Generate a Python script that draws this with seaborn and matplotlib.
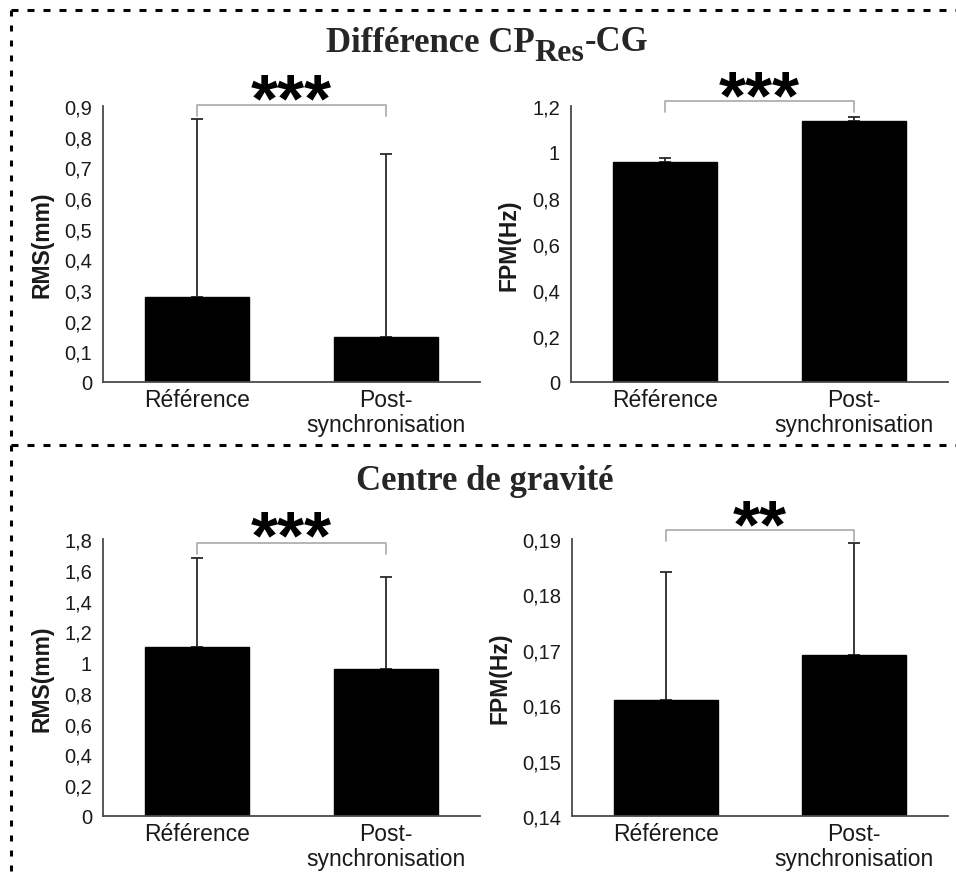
import matplotlib
matplotlib.use("Agg")
import matplotlib.pyplot as plt
import seaborn as sns
import numpy as np
from matplotlib.lines import Line2D
from matplotlib.ticker import FuncFormatter

# ---------------- data ----------------
categories = ["Référence", "Post-\nsynchronisation"]

rms_diff_mean = [0.277, 0.148]
rms_diff_sd = [0.580, 0.595]
fpm_diff_mean = [0.958, 1.136]
fpm_diff_sd = [0.018, 0.018]

rms_cg_mean = [1.100, 0.958]
rms_cg_sd = [0.575, 0.595]
fpm_cg_mean = [0.161, 0.169]
fpm_cg_sd = [0.023, 0.0202]

rms_diff_ticks = [0, 0.1, 0.2, 0.3, 0.4, 0.5, 0.6, 0.7, 0.8, 0.9]
fpm_diff_ticks = [0, 0.2, 0.4, 0.6, 0.8, 1.0, 1.2]
rms_cg_ticks = [0, 0.2, 0.4, 0.6, 0.8, 1.0, 1.2, 1.4, 1.6, 1.8]
fpm_cg_ticks = [0.14, 0.15, 0.16, 0.17, 0.18, 0.19]

significance = ["***", "***", "***", "**"]
ylabels = ["RMS(mm)", "FPM(Hz)", "RMS(mm)", "FPM(Hz)"]
section_titles = ["Centre de gravité"]

# ---------------- style ----------------
sns.set_style("white")
plt.rcParams["font.family"] = ["Liberation Sans", "DejaVu Sans"]

W, H = 956, 879
fig = plt.figure(figsize=(W / 100, H / 100), dpi=100)

def fx(px):
    return px / W

def fy(py):
    return 1 - py / H

panels = [
    dict(rect=[fx(103), fy(383), fx(480) - fx(103), fy(107) - fy(383)],
         mean=rms_diff_mean, sd=rms_diff_sd, ticks=rms_diff_ticks,
         brk=(0.902, 0.866), star_y=0.913, ylab_x=-0.13),
    dict(rect=[fx(571), fy(383), fx(948) - fx(571), fy(107) - fy(383)],
         mean=fpm_diff_mean, sd=fpm_diff_sd, ticks=fpm_diff_ticks,
         brk=(1.220, 1.174), star_y=1.230, ylab_x=-0.135),
    dict(rect=[fx(103), fy(817), fx(480) - fx(103), fy(540) - fy(817)],
         mean=rms_cg_mean, sd=rms_cg_sd, ticks=rms_cg_ticks,
         brk=(1.774, 1.703), star_y=1.80, ylab_x=-0.13),
    dict(rect=[fx(572), fy(817), fx(948) - fx(572), fy(540) - fy(817)],
         mean=fpm_cg_mean, sd=fpm_cg_sd, ticks=fpm_cg_ticks,
         brk=(0.1917, 0.1897), star_y=0.1920, ylab_x=-0.162),
]

spine_col = "#4a4a4a"
fmt = FuncFormatter(lambda v, p: f"{v:g}".replace(".", ","))

for i, p in enumerate(panels):
    ax = fig.add_axes(p["rect"])
    sns.barplot(x=categories, y=p["mean"], color="black", saturation=1,
                width=0.55, errorbar=None, edgecolor="black", ax=ax)
    ax.errorbar(range(len(categories)), p["mean"],
                yerr=[np.zeros(len(p["sd"])), p["sd"]],
                fmt="none", ecolor="#2a2a2a", elinewidth=1.3,
                capsize=4, capthick=1.3, zorder=1)
    for b in ax.patches:
        b.set_zorder(2)
    ticks = p["ticks"]
    ax.set_ylim(ticks[0], ticks[-1])
    ax.set_xlim(-0.5, 1.5)
    ax.set_yticks(ticks)
    ax.yaxis.set_major_formatter(fmt)
    ax.set_xticks([0, 1])
    ax.set_xticklabels(categories, fontsize=16.5, color="#1a1a1a",
                       linespacing=1.15)
    ax.set_xticks([-0.5, 0.5, 1.5], minor=True)
    ax.tick_params(axis="x", which="major", length=0, pad=4)
    ax.tick_params(axis="x", which="minor", length=5, width=1.2,
                   color=spine_col, direction="out")
    ax.tick_params(axis="y", which="major", length=5, width=1.2,
                   color=spine_col, direction="out", labelsize=14.5,
                   labelcolor="#1a1a1a", pad=3)
    for s in ["top", "right"]:
        ax.spines[s].set_visible(False)
    for s in ["left", "bottom"]:
        ax.spines[s].set_color(spine_col)
        ax.spines[s].set_linewidth(1.3)
    ax.set_ylabel(ylabels[i], fontsize=16.5, fontweight="bold", color="#1a1a1a")
    ax.yaxis.set_label_coords(p["ylab_x"], 0.5)
    ax.set_xlabel("")
    # significance bracket
    top, low = p["brk"]
    ax.plot([0, 0, 1, 1], [low, top, top, low], color="#b0b0b0", lw=1.3,
            clip_on=False, zorder=5)
    ax.text(0.5, p["star_y"], significance[i], ha="center", va="center",
            fontsize=50, fontweight="bold", color="black", clip_on=False)

# ---------------- titles ----------------
serif = ["Liberation Serif", "DejaVu Serif"]
t1 = fig.text(0, fy(52), "Différence CP", fontsize=25, fontweight="bold",
              family=serif, ha="left", va="baseline")
t2 = fig.text(0, fy(61), "Res", fontsize=23, fontweight="bold",
              family=serif, ha="left", va="baseline")
t3 = fig.text(0, fy(51), "-CG", fontsize=25, fontweight="bold",
              family=serif, ha="left", va="baseline")
fig.canvas.draw()
r = fig.canvas.get_renderer()
ws = [t.get_window_extent(r).width for t in (t1, t2, t3)]
x0 = 487 - sum(ws) / 2
t1.set_x(fx(x0))
t2.set_x(fx(x0 + ws[0]))
t3.set_x(fx(x0 + ws[0] + ws[1]))

fig.text(fx(485), fy(490), section_titles[0], fontsize=25, fontweight="bold",
         family=serif, ha="center", va="baseline")

# ---------------- dashed frame ----------------
lw = 2.2
dash = (0, (7 * 0.72 / lw, 9 * 0.72 / lw))
vdash = (0, (6 * 0.72 / lw, 9 * 0.72 / lw))
fig.add_artist(Line2D([fx(11), fx(956)], [fy(11), fy(11)], color="black",
                      lw=lw, linestyle=dash, transform=fig.transFigure))
fig.add_artist(Line2D([fx(11), fx(956)], [fy(446), fy(446)], color="black",
                      lw=lw, linestyle=dash, transform=fig.transFigure))
fig.add_artist(Line2D([fx(11), fx(11)], [fy(11), fy(879)], color="black",
                      lw=lw, linestyle=vdash, transform=fig.transFigure))

fig.savefig("out.png", dpi=100)
